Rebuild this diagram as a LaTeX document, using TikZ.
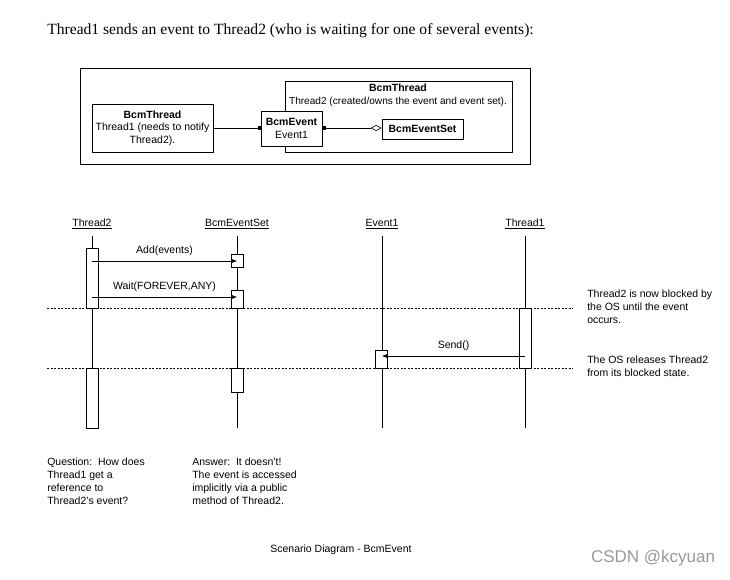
\documentclass[tikz,border=0pt]{standalone}
\usepackage{fontspec}
\setmainfont{Liberation Serif}
\setsansfont{Liberation Sans}
\usepackage{tikz}
\usetikzlibrary{
    arrows.meta,
    positioning
}
\tikzstyle{cls} = [
    rectangle, draw,
    inner sep=0pt,
    text centered,
    align=center,
    draw=black,
    fill=white
]
\tikzstyle{act} = [
    rectangle, draw,
    minimum width=12pt,
    inner sep=0pt,
    fill=white
]
\tikzstyle{msg} = [
    -{Latex[length=5pt,width=4pt]}
]
\tikzstyle{sep} = [
    dash pattern=on 2pt off 1.5pt
]
\tikzstyle{note} = [
    anchor=north west,
    align=left,
    inner sep=0pt,
    font=\sffamily\fontsize{10.5}{12.7}\selectfont
]

\begin{document}
\begin{tikzpicture}[
	    x=1pt, y=-1pt, line width=0.6pt,
	    font=\sffamily\fontsize{10.5}{12.3}\selectfont
	]
	    \useasboundingbox (0,0) rectangle (730,580);
	    \node[anchor=west, inner sep=0pt, font=\rmfamily\fontsize{15.6}{18}\selectfont] (title) at (47,31)
	        {Thread1 sends an event to Thread2 (who is waiting for one of several events):};

	    \draw (80,68) rectangle (530,164);
	    \draw (285,81) rectangle (512,152);
	    \node (owner) at (398,88) {\textbf{BcmThread}};
	    \node[font=\sffamily\fontsize{10.1}{12}\selectfont] (ownertxt) at (398,102)
	        {Thread2 (created/owns the event and event set).};
	    \node[cls, minimum width=121pt, minimum height=48pt] (tone) at (152.5,128)
	        {\textbf{BcmThread}\\Thread1 (needs to notify\\Thread2).};
	    \node[cls, minimum width=61pt, minimum height=35pt] (bev) at (291.5,128.5)
	        {\textbf{BcmEvent}\\Event1};
	    \node[cls, minimum width=81pt, minimum height=20pt] (bset) at (422.5,129)
	        {\textbf{BcmEventSet}};
	    \draw[-{Square[length=3pt,width=3pt]}] (tone.east |- 0,128) -- (bev.west |- 0,128);
	    \draw[{Square[length=3pt,width=3pt]}-{Diamond[open,length=11pt,width=6pt]}]
	        (bev.east |- 0,128) -- (bset.west |- 0,128);

	    \node (hthr2) at (92,224) {\underline{Thread2}};
	    \node (hset) at (237,224) {\underline{BcmEventSet}};
	    \node (hev) at (382,224) {\underline{Event1}};
	    \node (hthr1) at (525,224) {\underline{Thread1}};
	    \foreach \n/\x in {thr2/92, set/237, ev/382, thr1/525} {
	        \coordinate (e\n) at (\x,428);
	        \draw (h\n.south |- 0,236) -- (e\n);
	    }

	    \coordinate (sepa) at (47,308);
	    \coordinate (sepb) at (47,368);
	    \draw[sep] (sepa) -- ++(526,0);
	    \draw[sep] (sepb) -- ++(526,0);

	    \node[act, minimum height=60pt] (thr2a) at (92.5,278) {};
	    \node[act, minimum height=60pt] (thr2b) at (92.5,398) {};
	    \node[act, minimum height=13pt] (seta) at (237,260.5) {};
	    \node[act, minimum height=18pt] (setb) at (237,299) {};
	    \node[act, minimum height=24pt] (setc) at (237,380) {};
	    \node[act, minimum height=60pt] (thr1a) at (525.5,338) {};
	    \node[act, minimum height=18pt] (eva) at (381.5,359) {};

	    \coordinate (adds) at (92,261);
	    \coordinate (adde) at (237,261);
	    \coordinate (waits) at (92,297);
	    \coordinate (waite) at (237,297);
	    \coordinate (sends) at (525,356);
	    \coordinate (sende) at (382,356);
	    \draw[msg] (adds) -- (adde) node[midway, above=2pt] {Add(events)};
	    \draw[msg] (waits) -- (waite) node[midway, above=2pt] {Wait(FOREVER,ANY)};
	    \draw[msg] (sends) -- (sende) node[midway, above=2pt] {Send()};

	    \node[note] (blocked) at (587,290) {Thread2 is now blocked by\\the OS until the event\\occurs.};
	    \node[note] (release) at (587,356) {The OS releases Thread2\\from its blocked state.};
	    \node[note] (question) at (47,458) {Question:\ \ How does\\Thread1 get a\\reference to\\Thread2's event?};
	    \node[note] (answer) at (192,458) {Answer:\ \ It doesn't!\\The event is accessed\\implicitly via a public\\method of Thread2.};
	    \node (caption) at (341,550) {Scenario Diagram - BcmEvent};
	    \node[text=gray!80, font=\sffamily\fontsize{17}{20}\selectfont] (mark) at (653,558) {CSDN @kcyuan};
	\end{tikzpicture}
\end{document}
